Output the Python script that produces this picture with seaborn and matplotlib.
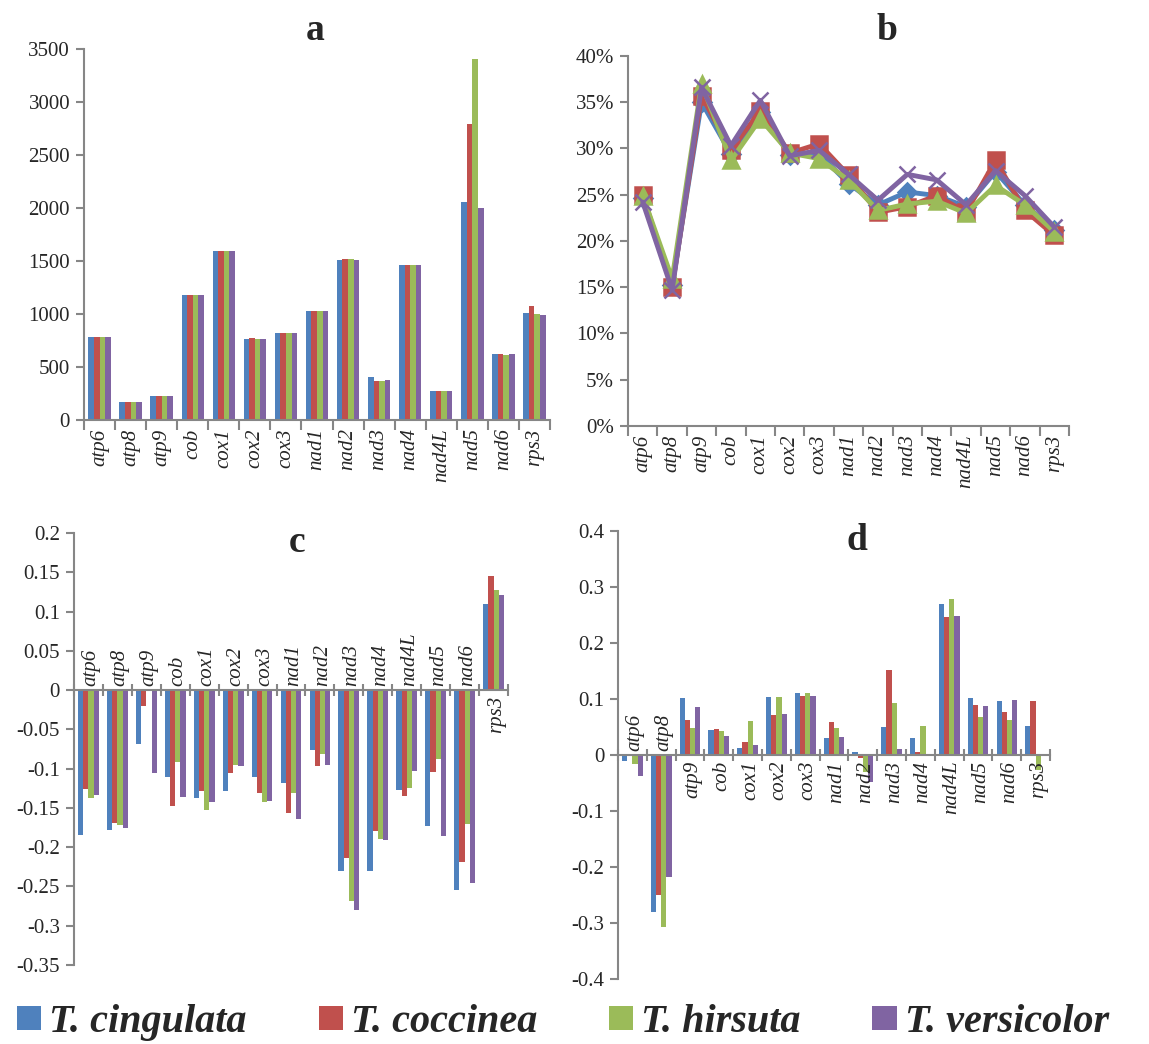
# -*- coding: utf-8 -*-
# Four-panel figure: gene lengths, GC content and skews per mitochondrial gene

# %%
# * 1. Import packages
import matplotlib
matplotlib.use("Agg")
import matplotlib.pyplot as plt
from matplotlib.patches import Patch
from matplotlib.ticker import FuncFormatter, MultipleLocator
import numpy as np
import pandas as pd
import seaborn as sns

# %%
# * 2. Data
genes = ["atp6", "atp8", "atp9", "cob", "cox1", "cox2", "cox3", "nad1",
         "nad2", "nad3", "nad4", "nad4L", "nad5", "nad6", "rps3"]
species = ["T. cingulata", "T. coccinea", "T. hirsuta", "T. versicolor"]
colors = ["#4F81BD", "#C0504D", "#9BBB59", "#8064A2"]

# a: gene length (bp)
length_cingulata = [786, 167, 230, 1176, 1597, 764, 821, 1025, 1513, 403, 1465, 277, 2053, 623, 1013]
length_coccinea = [786, 167, 230, 1179, 1597, 777, 821, 1025, 1516, 371, 1459, 277, 2796, 623, 1072]
length_hirsuta = [786, 167, 230, 1179, 1597, 764, 821, 1025, 1516, 371, 1465, 277, 3406, 616, 1003]
length_versicolor = [786, 167, 230, 1179, 1597, 764, 821, 1025, 1513, 374, 1465, 277, 1997, 623, 994]

# b: GC content
gc_cingulata = [0.246, 0.152, 0.350, 0.294, 0.339, 0.293, 0.294, 0.262, 0.239, 0.253, 0.249, 0.237, 0.275, 0.239, 0.212]
gc_coccinea = [0.250, 0.150, 0.357, 0.298, 0.341, 0.295, 0.305, 0.271, 0.231, 0.237, 0.249, 0.231, 0.287, 0.233, 0.206]
gc_hirsuta = [0.249, 0.159, 0.370, 0.287, 0.332, 0.295, 0.289, 0.266, 0.233, 0.240, 0.243, 0.230, 0.260, 0.239, 0.210]
gc_versicolor = [0.242, 0.147, 0.366, 0.303, 0.352, 0.292, 0.298, 0.272, 0.244, 0.272, 0.266, 0.239, 0.276, 0.249, 0.215]

# c: AT skew
at_cingulata = [-0.185, -0.178, -0.069, -0.111, -0.137, -0.128, -0.111, -0.118, -0.076, -0.231, -0.230, -0.127, -0.173, -0.255, 0.109]
at_coccinea = [-0.126, -0.169, -0.020, -0.147, -0.129, -0.106, -0.131, -0.157, -0.097, -0.214, -0.180, -0.135, -0.104, -0.219, 0.145]
at_hirsuta = [-0.138, -0.172, 0.0, -0.092, -0.153, -0.095, -0.142, -0.131, -0.081, -0.269, -0.189, -0.125, -0.088, -0.171, 0.127]
at_versicolor = [-0.134, -0.175, -0.106, -0.136, -0.142, -0.097, -0.141, -0.164, -0.095, -0.280, -0.191, -0.103, -0.186, -0.246, 0.121]

# d: GC skew
gcs_cingulata = [-0.011, -0.280, 0.102, 0.045, 0.012, 0.103, 0.111, 0.030, 0.006, 0.050, 0.030, 0.270, 0.101, 0.097, 0.052]
gcs_coccinea = [0.0, -0.250, 0.063, 0.046, 0.024, 0.071, 0.105, 0.059, -0.005, 0.152, 0.005, 0.246, 0.090, 0.077, 0.096]
gcs_hirsuta = [-0.016, -0.307, 0.049, 0.042, 0.060, 0.103, 0.111, 0.048, -0.030, 0.093, 0.051, 0.279, 0.068, 0.062, -0.027]
gcs_versicolor = [-0.037, -0.218, 0.086, 0.034, 0.017, 0.073, 0.105, 0.032, -0.049, 0.010, 0.0, 0.249, 0.088, 0.098, 0.0]

# label side for panels c / d (True = above the zero line)
c_label_above = [True] * 14 + [False]
d_label_above = [True, True] + [False] * 13


def long_df(series):
    rows = []
    for sp, vals in zip(species, series):
        for g, v in zip(genes, vals):
            rows.append({"gene": g, "species": sp, "value": v})
    return pd.DataFrame(rows)


# %%
# * 3. Style
sns.set_style("white")
plt.rcParams["font.family"] = ["Liberation Serif", "DejaVu Serif"]
axis_grey = "#868686"
tick_size = 15
palette = dict(zip(species, colors))
n = len(genes)


def style_axes(ax):
    for s in ["top", "right"]:
        ax.spines[s].set_visible(False)
    for s in ["left", "bottom"]:
        ax.spines[s].set_color(axis_grey)
        ax.spines[s].set_linewidth(1.5)
    ax.set_xlim(-0.5, n - 0.5)
    ax.set_xticks(np.arange(n + 1) - 0.5, minor=True)
    ax.tick_params(axis="x", which="minor", bottom=True, length=7, width=1.5,
                   color=axis_grey, direction="out")
    ax.tick_params(axis="y", which="major", left=True, length=6, width=1.5,
                   color=axis_grey, labelsize=tick_size, pad=4)
    ax.set_xlabel("")
    ax.set_ylabel("")


fig = plt.figure(figsize=(11.49, 10.44), dpi=100)

# %%
# * 4. Panel a: gene length
ax_a = fig.add_axes([0.0731, 0.5977, 0.4056, 0.3554])
sns.barplot(data=long_df([length_cingulata, length_coccinea, length_hirsuta, length_versicolor]),
            x="gene", y="value", hue="species", palette=palette, width=0.72,
            order=genes, hue_order=species, legend=False, ax=ax_a,
            edgecolor="none", saturation=1)
style_axes(ax_a)
ax_a.set_ylim(0, 3500)
ax_a.yaxis.set_major_locator(MultipleLocator(500))
ax_a.set_xticks(range(n))
ax_a.set_xticklabels(genes, rotation=90, fontstyle="italic", fontsize=tick_size)
ax_a.tick_params(axis="x", which="major", length=0, pad=6)

# %%
# * 5. Panel b: GC content
ax_b = fig.add_axes([0.5466, 0.5920, 0.3838, 0.3544])
markers = ["D", "s", "^", "x"]
msizes = [9, 11, 12, 12]
for vals, sp, c, m, ms in zip([gc_cingulata, gc_coccinea, gc_hirsuta, gc_versicolor],
                              species, colors, markers, msizes):
    sns.lineplot(x=np.arange(n), y=vals, color=c, marker=m, markersize=ms,
                 markeredgecolor=c, markeredgewidth=1.8, linewidth=3.5, ax=ax_b)
style_axes(ax_b)
ax_b.set_ylim(0, 0.4)
ax_b.yaxis.set_major_locator(MultipleLocator(0.05))
ax_b.yaxis.set_major_formatter(FuncFormatter(lambda v, p: f"{v * 100:.0f}%"))
ax_b.set_xticks(range(n))
ax_b.set_xticklabels(genes, rotation=90, fontstyle="italic", fontsize=tick_size)
ax_b.tick_params(axis="x", which="major", length=0, pad=6)


# %%
# * 6. Panels c and d: skews
def skew_panel(ax, series, ylim, step, above):
    sns.barplot(data=long_df(series), x="gene", y="value", hue="species",
                palette=palette, width=0.72, order=genes, hue_order=species,
                legend=False, ax=ax, edgecolor="none", saturation=1)
    style_axes(ax)
    ax.spines["bottom"].set_position(("data", 0))
    ax.set_ylim(*ylim)
    ax.yaxis.set_major_locator(MultipleLocator(step))
    ax.yaxis.set_major_formatter(FuncFormatter(lambda v, p: f"{round(v, 3):g}"))
    ax.set_xticks([])
    ax.tick_params(axis="x", which="minor", direction="inout", length=8)
    for i, (g, up) in enumerate(zip(genes, above)):
        ax.annotate(g, (i, 0), xytext=(2, 3 if up else -4), textcoords="offset points",
                    rotation=90, ha="center", va="bottom" if up else "top",
                    fontstyle="italic", fontsize=tick_size)


ax_c = fig.add_axes([0.0644, 0.0757, 0.3777, 0.4138])
skew_panel(ax_c, [at_cingulata, at_coccinea, at_hirsuta, at_versicolor],
           (-0.35, 0.2), 0.05, c_label_above)

ax_d = fig.add_axes([0.5379, 0.0623, 0.3760, 0.4291])
skew_panel(ax_d, [gcs_cingulata, gcs_coccinea, gcs_hirsuta, gcs_versicolor],
           (-0.4, 0.4), 0.1, d_label_above)

# %%
# * 7. Panel letters and legend
for letter, x, y in [("a", 315, 30), ("b", 887, 30), ("c", 297, 542), ("d", 857, 540)]:
    fig.text(x / 1149, 1 - y / 1044, letter, ha="center", va="center",
             fontsize=27, fontweight="bold")

handles = [Patch(facecolor=c, edgecolor="none") for c in colors]
fig.legend(handles, species, loc="center", bbox_to_anchor=(0.49, 0.0205),
           ncol=4, frameon=False, handlelength=0.6, handleheight=0.55,
           handletextpad=0.2, columnspacing=1.78, borderpad=0,
           prop={"size": 29, "weight": "bold", "style": "italic"})

fig.savefig("out.png", dpi=100)
